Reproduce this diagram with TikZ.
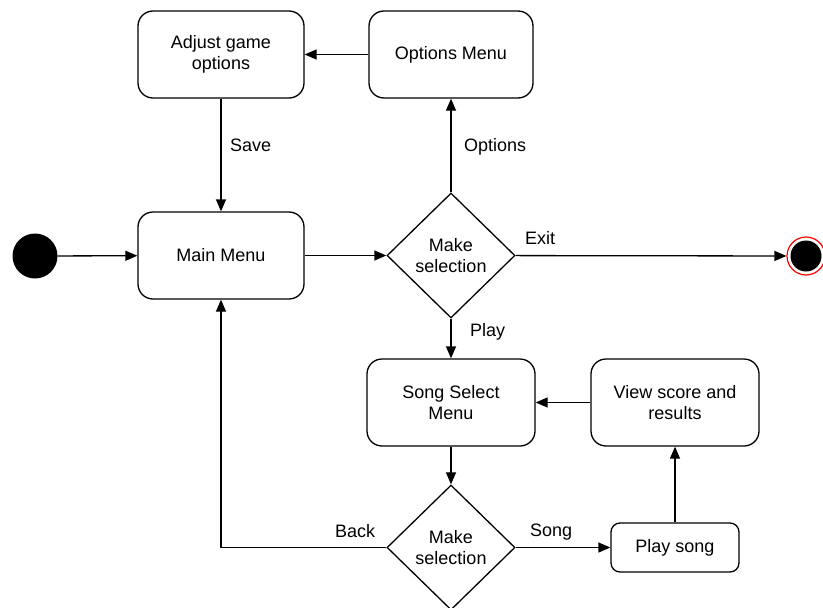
\documentclass[tikz,border=0pt]{standalone}
\usepackage{fontspec}
\setmainfont{Liberation Sans}
\usetikzlibrary{shapes.geometric,arrows.meta}
\begin{document}
\begin{tikzpicture}[x=1pt,y=-1pt,
  every node/.style={font=\fontsize{18}{21.5}\selectfont, text=black},
  state/.style={draw, line width=1.3pt, rounded corners=15pt, minimum width=166pt, minimum height=87pt, align=center, inner sep=0pt},
  smallstate/.style={draw, line width=1.3pt, rounded corners=9pt, minimum width=128pt, minimum height=49pt, align=center, inner sep=0pt},
  choice/.style={draw, line width=1.3pt, diamond, aspect=1.02, minimum width=128pt, minimum height=125pt, align=center, inner sep=0pt},
  flow/.style={line width=1.3pt, -{Triangle[length=12pt,width=10pt]}},
  lbl/.style={inner sep=0pt}]
\clip (0,0) rectangle (823,608);
\fill[white] (0,0) rectangle (823,608);

% states
\node[state] (adjust) at (221,54.5) {Adjust game\\options};
\node[state, minimum width=164pt] (options) at (451,54.5) {Options Menu};
\node[state] (main) at (221,255.5) {Main Menu};
\node[state, minimum width=168pt] (songsel) at (451,402.5) {Song Select\\Menu};
\node[state, minimum width=168pt] (score) at (675,402.5) {View score and\\results};
\node[smallstate] (play) at (675,547.5) {Play song};

% decisions
\node[choice] (sel1) at (451,255.5) {Make\\selection};
\node[choice] (sel2) at (451,547.5) {Make\\selection};

% initial and final states
\node[circle, fill=black, minimum size=45pt, inner sep=0pt] (start) at (35,256) {};
\node[circle, draw=red, fill=white, line width=1.2pt, minimum size=38pt, inner sep=0pt] (final) at (806,256) {};
\fill[black] (final.center) circle (15.5pt);

% transitions
\draw[flow] (start) -- (main);
\draw[flow] (main) -- (sel1);
\draw[flow] (options) -- (adjust);
\draw[flow] (adjust) -- (main);
\draw[flow] (sel1) -- (options);
\draw[flow] (sel1) -- (final);
\draw[flow] (sel1) -- (songsel);
\draw[flow] (songsel) -- (sel2);
\draw[flow] (sel2) -- (play);
\draw[flow] (play) -- (score);
\draw[flow] (score) -- (songsel);
\draw[flow] (sel2.west) -| (main.south);

% transition labels
\node[lbl, anchor=west] at (230,145) {Save};
\node[lbl, anchor=west] at (464,146.5) {Options};
\node[lbl, anchor=west] at (525,238) {Exit};
\node[lbl, anchor=west] at (470,332) {Play};
\node[lbl, anchor=west] at (335,531) {Back};
\node[lbl, anchor=west] at (530,532) {Song};
\end{tikzpicture}
\end{document}
